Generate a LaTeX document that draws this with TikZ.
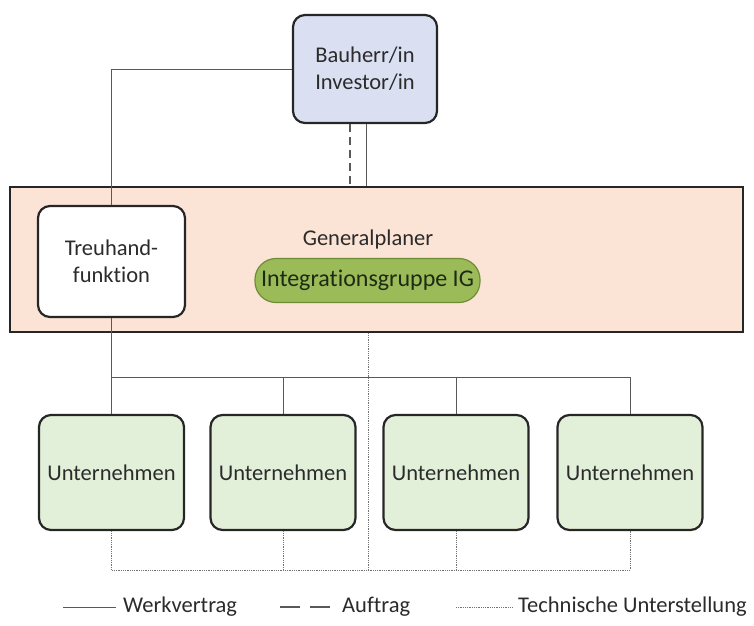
\documentclass[tikz,border=0pt]{standalone}
\usepackage{fontspec}
\setmainfont{Carlito}[Ligatures={NoCommon}]
\definecolor{bauherr}{HTML}{DAE0F2}
\definecolor{peach}{HTML}{FBE4D5}
\definecolor{pill}{HTML}{9BBB59}
\definecolor{pilldraw}{HTML}{6E8C35}
\definecolor{pilltxt}{HTML}{1E2A12}
\definecolor{unt}{HTML}{E2EFD9}
\definecolor{txt}{HTML}{2B2B2B}
\begin{document}
\begin{tikzpicture}[x=1pt,y=-1pt,
  every node/.style={text=txt, font=\fontsize{22.5}{27}\selectfont},
  box/.style={draw=black!85, line width=2.2pt, rounded corners=12pt, align=center, inner sep=0pt},
  conn/.style={draw=black!65, line width=1pt},
  auftrag/.style={draw=black!65, line width=1.3pt, dash pattern=on 8pt off 5pt},
  tech/.style={draw=black!55, line width=1pt, dash pattern=on 1pt off 0.8pt},
  lab/.style={anchor=west, inner sep=0pt}]
\useasboundingbox (0,0) rectangle (754,625);
% Generalplaner
\node[draw=black!85, line width=2.2pt, fill=peach, minimum width=733pt, minimum height=145pt, inner sep=0pt] (gp) at (376.5,259.5) {};
\node (gpl) at (368,239) {Generalplaner};
\node[draw=pilldraw, line width=1.2pt, fill=pill, rounded corners=21pt, minimum width=225pt, minimum height=44pt, inner sep=0pt, text=pilltxt, font=\fontsize{24}{28}\selectfont] (ig) at (367.5,280.5) {Integrationsgruppe IG};
% Bauherr
\node[box, fill=bauherr, minimum width=144pt, minimum height=108pt] (bh) at (365,69) {Bauherr/in\\Investor/in};
% Treuhand
\node[box, fill=white, minimum width=147pt, minimum height=111pt] (th) at (111.5,261.5) {Treuhand-\\funktion};
% Unternehmen
\node[box, fill=unt, minimum width=145pt, minimum height=115pt] (u1) at (111.5,472.5) {Unternehmen};
\node[box, fill=unt, minimum width=145pt, minimum height=115pt] (u2) at (283,472.5) {Unternehmen};
\node[box, fill=unt, minimum width=145pt, minimum height=115pt] (u3) at (456,472.5) {Unternehmen};
\node[box, fill=unt, minimum width=145pt, minimum height=115pt] (u4) at (630,472.5) {Unternehmen};
% connectors
\draw[conn] (bh.west) -| (th.north);
\draw[conn] ([xshift=1pt]bh.south) -- ([xshift=1pt]bh.south |- gp.north);
\draw[auftrag] ([xshift=-15pt]bh.south) -- ([xshift=-15pt]bh.south |- gp.north);
\coordinate (bus) at (111.5,377);
\draw[conn] (th.south) -- (u1.north);
\draw[conn] (bus) -| (u4.north);
\draw[conn] (bus -| u2.north) -- (u2.north);
\draw[conn] (bus -| u3.north) -- (u3.north);
\coordinate (tb) at (368,570);
\draw[tech] (gp.south -| tb) -- (tb);
\draw[tech] (u1.south) |- (u4.south |- tb) -- (u4.south);
\draw[tech] (u2.south) -- (u2.south |- tb);
\draw[tech] (u3.south) -- (u3.south |- tb);
% legend
\coordinate (l1a) at (63,607); \coordinate (l1b) at (116,607);
\coordinate (l2a) at (280,607); \coordinate (l2b) at (331,607);
\coordinate (l3a) at (456,607); \coordinate (l3b) at (512,607);
\draw[conn] (l1a) -- (l1b);
\node[lab] (lw) at (123,607) {Werkvertrag};
\draw[draw=black!65, line width=1.3pt, dash pattern=on 20pt off 10pt] (l2a) -- (l2b);
\node[lab] (la) at (342,607) {Auftrag};
\draw[tech] (l3a) -- (l3b);
\node[lab] (lt) at (518,607) {Technische Unterstellung};
\end{tikzpicture}
\end{document}
